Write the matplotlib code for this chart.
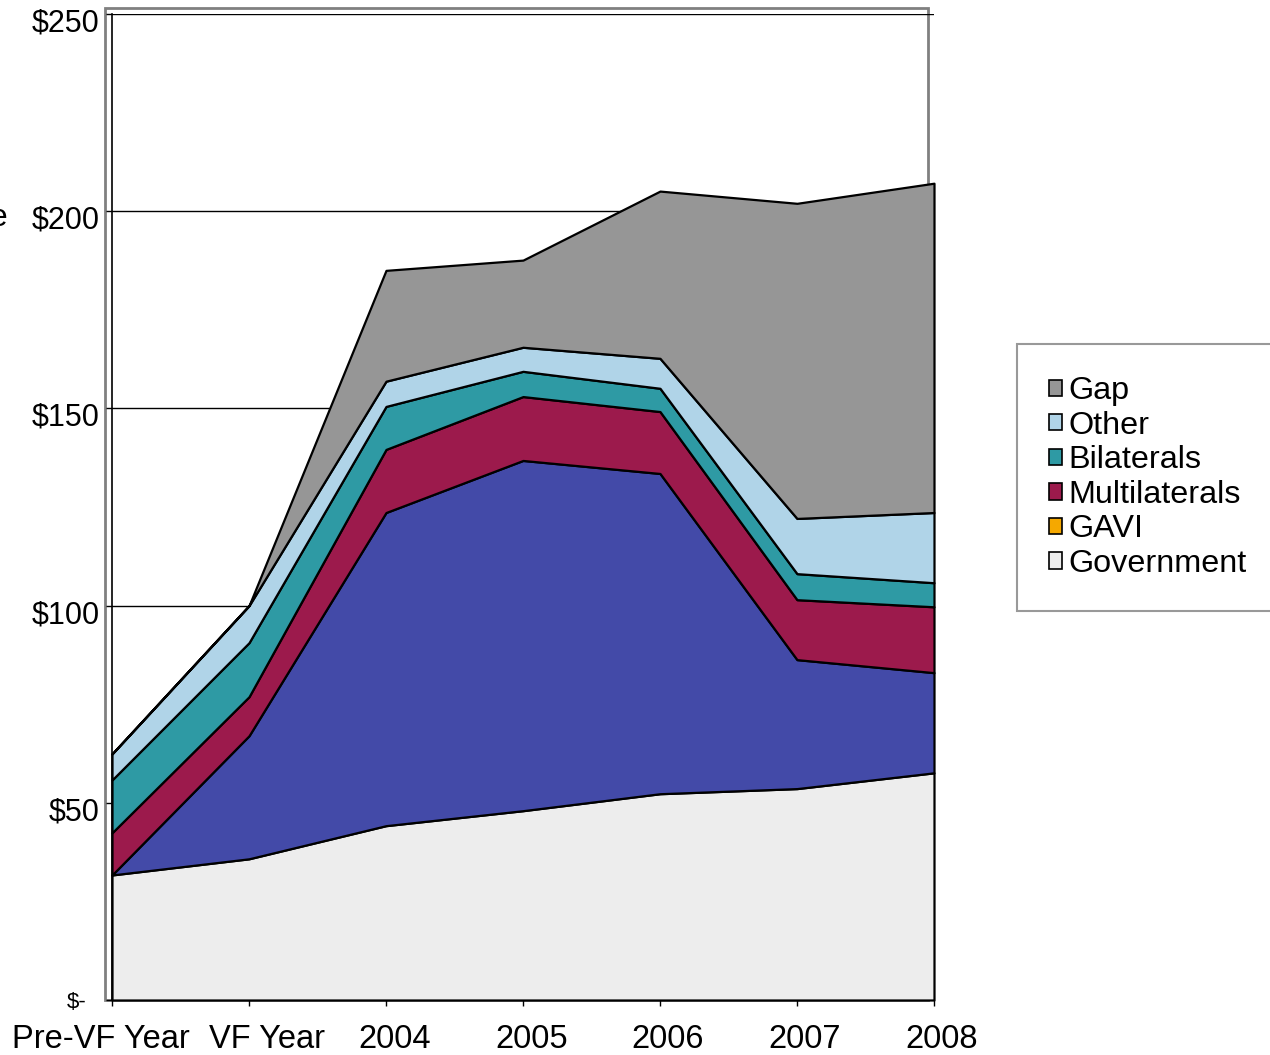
import matplotlib
matplotlib.use("Agg")
from matplotlib import pyplot as plt
from matplotlib.patches import Patch, Rectangle
from matplotlib.transforms import ScaledTranslation

plt.rcParams['font.family'] = ['Liberation Sans', 'DejaVu Sans']

## Data (US$ millions)
categories = ['Pre-VF Year', 'VF Year', '2004', '2005', '2006', '2007', '2008']
government = [31.7, 35.8, 44.2, 48.0, 52.3, 53.6, 57.6]
gavi = [0.0, 31.2, 79.4, 88.8, 81.2, 32.7, 25.4]
multilaterals = [10.7, 9.9, 16.0, 16.2, 15.7, 15.2, 16.7]
bilaterals = [13.4, 13.7, 10.9, 6.4, 5.9, 6.6, 6.1]
other = [6.6, 9.4, 6.4, 6.1, 7.6, 14.0, 17.8]
gap = [0.0, 0.0, 28.1, 22.1, 42.4, 79.9, 83.5]

y_ticks = [0, 50, 100, 150, 200, 250]
y_labels = ['$-', '$50', '$100', '$150', '$200', '$250']

colors = ['#ededed', '#434aa8', '#9c1a4c', '#2e9aa4', '#b0d4e8', '#969696']
legend_names = ['Gap', 'Other', 'Bilaterals', 'Multilaterals', 'GAVI', 'Government']
legend_colors = ['#969696', '#b0d4e8', '#2e9aa4', '#9c1a4c', '#f5a800', '#ededed']

##Plot##
fig = plt.figure(figsize=(12.7, 10.55), dpi=100)
ax = fig.add_axes([112/1270, 1-1000/1055, (934-112)/1270, (1000-14)/1055])
ax.set_zorder(1)
ax.patch.set_alpha(0)

# outer grey plot-area frame (Excel style), sits behind the areas
fig.patches.append(Rectangle((105/1270, 1-1000/1055), (928-105)/1270, (1000-8)/1055,
                             transform=fig.transFigure, fill=False,
                             edgecolor='#808080', linewidth=2, zorder=0))

x = list(range(len(categories)))
polys = ax.stackplot(x, government, gavi, multilaterals, bilaterals, other, gap,
                     colors=colors, edgecolor='black', linewidth=1.6, zorder=3)
for p in polys:
    p.set_clip_on(False)

ax.set_xlim(0, 6)
ax.set_ylim(0, 250)
ax.set_yticks(y_ticks)
ax.set_yticklabels(y_labels)
ax.set_xticks(x)
ax.set_xticklabels(categories)
ax.grid(axis='y', color='black', linewidth=1.0, zorder=0)
ax.set_axisbelow(True)

for s in ['top', 'right']:
    ax.spines[s].set_visible(False)
ax.spines['left'].set_linewidth(1.2)
ax.spines['bottom'].set_linewidth(1.2)

ax.tick_params(axis='y', length=4, width=1, pad=5, labelsize=22)
ax.tick_params(axis='x', length=4, width=1, pad=13, labelsize=23.5)
for lab in ax.get_yticklabels():
    if lab.get_text() == '$-':
        lab.set_fontsize(16)
        lab.set_transform(lab.get_transform() + ScaledTranslation(-0.13, 0, fig.dpi_scale_trans))
    else:
        lab.set_transform(lab.get_transform() + ScaledTranslation(0, -0.06, fig.dpi_scale_trans))

x_shift = [-0.11, 0.18, 0.09, 0.09, 0.08, 0.08, 0.08]
for lab, dx in zip(ax.get_xticklabels(), x_shift):
    lab.set_transform(lab.get_transform() + ScaledTranslation(dx, 0, fig.dpi_scale_trans))

# cut-off axis title on the left edge
fig.text(8/1270, 1-218/1055, 'Value', ha='right', va='center', fontsize=23)

handles = [Patch(facecolor=c, edgecolor='black', linewidth=1.2) for c in legend_colors]
leg = fig.legend(handles, legend_names, loc='upper left',
                 bbox_to_anchor=(1017/1270, 1-344/1055), borderaxespad=0,
                 fontsize=23.3, frameon=True, fancybox=False, borderpad=1.0,
                 handlelength=0.4, handleheight=0.4, handletextpad=0.2,
                 labelspacing=0.14)
leg.get_frame().set_edgecolor('#808080')
leg.get_frame().set_linewidth(1.5)

fig.savefig('out.png', dpi=100)
